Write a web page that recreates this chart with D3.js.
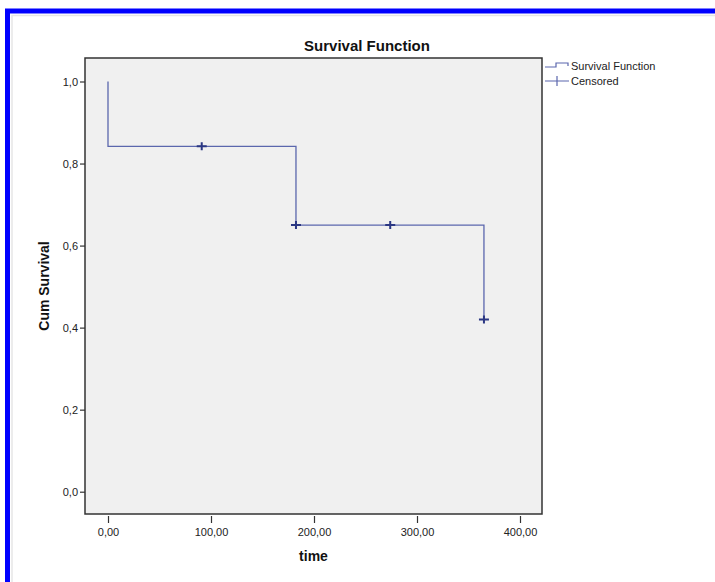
<html>
<head>
<style>
  body { margin: 0; background: #fff; }
  text { font-family: "Liberation Sans", Arial, sans-serif; }
</style>
<script src="https://d3js.org/d3.v7.min.js"></script>
</head>
<body>
<svg id="chart" width="715" height="582"></svg>
<script>
  // survival step data
  const stepTimes = [0, 0, 182.5, 182.5, 365, 365];
  const stepSurvival = [1.0, 0.842, 0.842, 0.65, 0.65, 0.42];
  const censorTimes = [91, 182.5, 274, 365];
  const censorSurvival = [0.842, 0.65, 0.65, 0.42];
  const xTicks = [0, 100, 200, 300, 400];
  const yTicks = [0, 0.2, 0.4, 0.6, 0.8, 1.0];
  const legendLabels = ["Survival Function", "Censored"];

  const svg = d3.select('#chart');

  // blue frame
  svg.append('rect')
    .attr('x', 7.5).attr('y', 11)
    .attr('width', 720).attr('height', 600)
    .attr('fill', 'none')
    .attr('stroke', '#0000ff')
    .attr('stroke-width', 5);
  svg.append('rect')
    .attr('x', 12).attr('y', 15.5)
    .attr('width', 720).attr('height', 600)
    .attr('fill', 'none')
    .attr('stroke', '#e6e6e6')
    .attr('stroke-width', 1.5);

  const plotLeft = 85, plotRight = 542, plotTop = 58, plotBottom = 514;

  const xScale = d3.scaleLinear().domain([0, 400]).range([108, 520]);
  const yScale = d3.scaleLinear().domain([0, 1]).range([491.7, 81.5]);

  svg.append('rect')
    .attr('x', plotLeft).attr('y', plotTop)
    .attr('width', plotRight - plotLeft).attr('height', plotBottom - plotTop)
    .attr('fill', '#f0f0f0')
    .attr('stroke', '#333')
    .attr('stroke-width', 1.5);

  // axes
  const fmtY = d => d3.format('.1f')(d).replace('.', ',');
  const fmtX = d => d3.format('.2f')(d).replace('.', ',');

  const yAxis = svg.append('g')
    .attr('transform', `translate(${plotLeft}, 0)`)
    .call(d3.axisLeft(yScale).tickValues(yTicks).tickFormat(fmtY).tickSize(5).tickPadding(2));
  yAxis.select('.domain').remove();

  const xAxis = svg.append('g')
    .attr('transform', `translate(0, ${plotBottom + 2})`)
    .call(d3.axisBottom(xScale).tickValues(xTicks).tickFormat(fmtX).tickSize(7).tickPadding(5));
  xAxis.select('.domain').remove();

  svg.selectAll('.tick line').attr('stroke', '#333').attr('stroke-width', 1.2);
  svg.selectAll('.tick text')
    .attr('fill', '#222')
    .style('font-family', '"Liberation Sans", Arial, sans-serif')
    .style('font-size', '11px');

  // titles
  svg.append('text')
    .attr('x', 367).attr('y', 51)
    .attr('text-anchor', 'middle')
    .style('font-size', '15px').style('font-weight', 'bold')
    .attr('fill', '#111')
    .text('Survival Function');

  svg.append('text')
    .attr('x', (plotLeft + plotRight) / 2).attr('y', 561)
    .attr('text-anchor', 'middle')
    .style('font-size', '14px').style('font-weight', 'bold')
    .attr('fill', '#111')
    .text('time');

  svg.append('text')
    .attr('transform', `translate(49, ${(plotTop + plotBottom) / 2}) rotate(-90)`)
    .attr('text-anchor', 'middle')
    .style('font-size', '14px').style('font-weight', 'bold')
    .attr('fill', '#111')
    .text('Cum Survival');

  // survival step line
  const stepData = stepTimes.map((t, i) => [t, stepSurvival[i]]);
  svg.append('path')
    .datum(stepData)
    .attr('d', d3.line().x(d => xScale(d[0])).y(d => yScale(d[1])))
    .attr('fill', 'none')
    .attr('stroke', '#5b67ad')
    .attr('stroke-width', 1.3);

  // censored markers
  const censorData = censorTimes.map((t, i) => [t, censorSurvival[i]]);
  const marks = svg.selectAll('g.censor')
    .data(censorData)
    .enter()
    .append('g')
    .attr('class', 'censor')
    .attr('transform', d => `translate(${xScale(d[0])}, ${yScale(d[1])})`);
  marks.append('path')
    .attr('d', 'M-5,0H5M0,-4V4')
    .attr('stroke', '#2b3783')
    .attr('stroke-width', 2);

  // legend
  const legend = svg.append('g');
  legend.append('path')
    .attr('d', 'M545,67H556V63H568V66')
    .attr('fill', 'none')
    .attr('stroke', '#5b67ad')
    .attr('stroke-width', 1.2);
  legend.append('path')
    .attr('d', 'M545,81H569M557,76V86')
    .attr('fill', 'none')
    .attr('stroke', '#5b67ad')
    .attr('stroke-width', 1.2);
  legend.selectAll('text')
    .data(legendLabels)
    .enter()
    .append('text')
    .attr('x', 571)
    .attr('y', (d, i) => 70 + i * 15)
    .style('font-size', '11px')
    .attr('fill', '#222')
    .text(d => d);
</script>
</body>
</html>
